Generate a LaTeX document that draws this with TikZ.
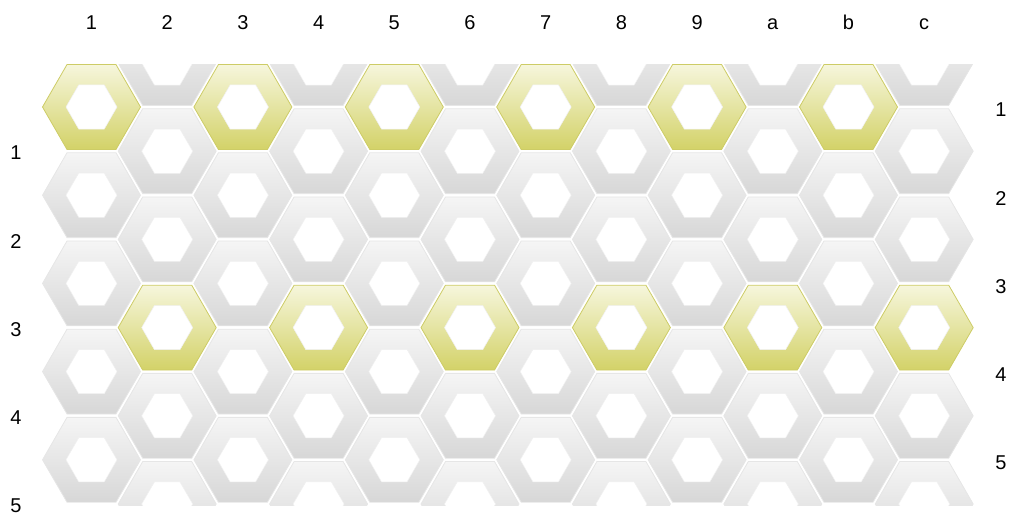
\documentclass[tikz,border=0pt]{standalone}
\usepackage{fontspec}
\setmainfont{Liberation Sans}
\definecolor{CellTop}{HTML}{F5F5F5}
\definecolor{CellBottom}{HTML}{D7D7D7}
\definecolor{CellEdge}{HTML}{E6E6E6}
\definecolor{MarkTop}{HTML}{F6F6DC}
\definecolor{MarkBottom}{HTML}{D3D268}
\definecolor{MarkEdge}{HTML}{CDCC66}

\tikzset{
    cell/.style={top color=CellTop, bottom color=CellBottom, draw=CellEdge, line width=0.8pt},
    markcell/.style={top color=MarkTop, bottom color=MarkBottom, draw=MarkEdge, line width=0.8pt},
    hole/.style={fill=white, draw=CellEdge!60, line width=0.5pt},
    gridlabel/.style={font=\fontsize{20}{20}\selectfont, anchor=base, inner sep=0pt},
}

\begin{document}
\begin{tikzpicture}[x=1pt, y=-1pt]
    \useasboundingbox (0,0) rectangle (1012,516);

    % ========== Hexagon field ==========
    \begin{scope}
        \clip (0,64.6) rectangle (1012,505);
        \foreach \c in {1,...,12} {
            \pgfmathsetmacro{\x}{91.5+(\c-1)*75.7}
            \pgfmathtruncatemacro{\odd}{mod(\c,2)}
            \ifnum\odd=1
                \def\rows{0,...,4}\def\ystart{107}\def\marked{0}
            \else
                \def\rows{0,...,5}\def\ystart{63}\def\marked{3}
            \fi
            \foreach \r in \rows {
                \pgfmathsetmacro{\y}{\ystart+\r*88.2}
                \ifnum\r=\marked
                    \path[markcell, shift={(\x,\y)}]
                        (0:49) -- (60:49) -- (120:49) -- (180:49) -- (240:49) -- (300:49) -- cycle;
                \else
                    \path[cell, shift={(\x,\y)}]
                        (0:49) -- (60:49) -- (120:49) -- (180:49) -- (240:49) -- (300:49) -- cycle;
                \fi
                % Hole
                \path[hole, shift={(\x,\y)}]
                    (0:25.5) -- (60:25.5) -- (120:25.5) -- (180:25.5) -- (240:25.5) -- (300:25.5) -- cycle;
            }
        }
    \end{scope}

    % ========== Column labels (top) ==========
    \foreach \name [count=\c] in {1,2,3,4,5,6,7,8,9,a,b,c} {
        \pgfmathsetmacro{\x}{91.5+(\c-1)*75.7}
        \node[gridlabel] (col\c) at (\x,29.5) {\name};
    }

    % ========== Row labels (left and right) ==========
    \foreach \r in {1,...,5} {
        \pgfmathsetmacro{\yl}{63+\r*88.2+8.8}
        \pgfmathsetmacro{\yr}{107+(\r-1)*88.2+10}
        \node[gridlabel] (left\r) at (16,\yl) {\r};
        \node[gridlabel] (right\r) at (1001,\yr) {\r};
    }

\end{tikzpicture}
\end{document}
